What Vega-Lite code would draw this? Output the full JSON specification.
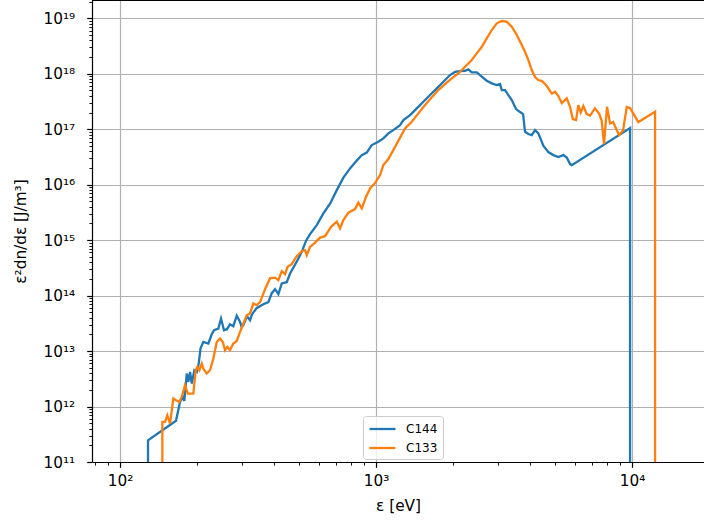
{
  "$schema": "https://vega.github.io/schema/vega-lite/v6.json",
  "width": 612,
  "height": 462,
  "autosize": {"type": "none"},
  "padding": {"left": 92, "top": 0, "right": 0, "bottom": 65},
  "background": "white",
  "config": {
    "view": {"stroke": null},
    "font": "DejaVu Sans",
    "axis": {
      "domainColor": "black", "domainWidth": 1.2, "tickColor": "black",
      "gridColor": "#b0b0b0", "gridWidth": 1.2,
      "labelFont": "DejaVu Sans", "labelFontSize": 15.3, "labelColor": "black",
      "titleFont": "DejaVu Sans", "titleFontSize": 15.3, "titleFontWeight": "normal", "titleColor": "black",
      "labelOverlap": false, "labelFlush": false, "labelBound": false
    }
  },
  "data": {"values": [
    {"s":"C144","i":0,"e":128.6,"v":1e5},
    {"s":"C144","i":1,"e":128.6,"v":2.46e11},
    {"s":"C144","i":2,"e":165.4,"v":5.54e11},
    {"s":"C144","i":3,"e":171.5,"v":1.21e12},
    {"s":"C144","i":4,"e":175.8,"v":1.49e12},
    {"s":"C144","i":5,"e":178.3,"v":1.26e12},
    {"s":"C144","i":6,"e":182.2,"v":3.93e12},
    {"s":"C144","i":7,"e":184.9,"v":2.78e12},
    {"s":"C144","i":8,"e":187.7,"v":4.20e12},
    {"s":"C144","i":9,"e":190.6,"v":2.60e12},
    {"s":"C144","i":10,"e":195.1,"v":4.51e12},
    {"s":"C144","i":11,"e":199.3,"v":4.20e12},
    {"s":"C144","i":12,"e":202.9,"v":5.96e12},
    {"s":"C144","i":13,"e":206.3,"v":1.125e13},
    {"s":"C144","i":14,"e":211.5,"v":1.46e13},
    {"s":"C144","i":15,"e":221.3,"v":1.37e13},
    {"s":"C144","i":16,"e":228.1,"v":2.01e13},
    {"s":"C144","i":17,"e":232.9,"v":2.38e13},
    {"s":"C144","i":18,"e":242.1,"v":2.55e13},
    {"s":"C144","i":19,"e":248.0,"v":3.87e13},
    {"s":"C144","i":20,"e":254.7,"v":2.38e13},
    {"s":"C144","i":21,"e":261.8,"v":2.48e13},
    {"s":"C144","i":22,"e":268.9,"v":3.05e13},
    {"s":"C144","i":23,"e":277.0,"v":2.81e13},
    {"s":"C144","i":24,"e":285.7,"v":4.34e13},
    {"s":"C144","i":25,"e":294.3,"v":3.36e13},
    {"s":"C144","i":26,"e":298.8,"v":2.69e13},
    {"s":"C144","i":27,"e":303.1,"v":2.93e13},
    {"s":"C144","i":28,"e":313.4,"v":4.25e13},
    {"s":"C144","i":29,"e":321.9,"v":3.60e13},
    {"s":"C144","i":30,"e":327.8,"v":4.62e13},
    {"s":"C144","i":31,"e":341.3,"v":5.93e13},
    {"s":"C144","i":32,"e":362.8,"v":7.00e13},
    {"s":"C144","i":33,"e":379.6,"v":7.61e13},
    {"s":"C144","i":34,"e":391.4,"v":1.105e14},
    {"s":"C144","i":35,"e":403.2,"v":1.305e14},
    {"s":"C144","i":36,"e":415.4,"v":1.060e14},
    {"s":"C144","i":37,"e":428.2,"v":1.654e14},
    {"s":"C144","i":38,"e":447.9,"v":1.746e14},
    {"s":"C144","i":39,"e":461.4,"v":2.506e14},
    {"s":"C144","i":40,"e":489.9,"v":4.091e14},
    {"s":"C144","i":41,"e":512.6,"v":6.145e14},
    {"s":"C144","i":42,"e":532.9,"v":9.79e14},
    {"s":"C144","i":43,"e":552.4,"v":1.282e15},
    {"s":"C144","i":44,"e":586.6,"v":1.864e15},
    {"s":"C144","i":45,"e":622.6,"v":3.029e15},
    {"s":"C144","i":46,"e":661.2,"v":4.550e15},
    {"s":"C144","i":47,"e":702.3,"v":7.97e15},
    {"s":"C144","i":48,"e":745.3,"v":1.340e16},
    {"s":"C144","i":49,"e":791.4,"v":1.964e16},
    {"s":"C144","i":50,"e":840.5,"v":2.716e16},
    {"s":"C144","i":51,"e":879.4,"v":3.413e16},
    {"s":"C144","i":52,"e":919.8,"v":3.785e16},
    {"s":"C144","i":53,"e":962.0,"v":5.17e16},
    {"s":"C144","i":54,"e":1021,"v":5.93e16},
    {"s":"C144","i":55,"e":1068,"v":6.83e16},
    {"s":"C144","i":56,"e":1117,"v":8.41e16},
    {"s":"C144","i":57,"e":1168,"v":9.64e16},
    {"s":"C144","i":58,"e":1241,"v":1.187e17},
    {"s":"C144","i":59,"e":1279,"v":1.461e17},
    {"s":"C144","i":60,"e":1358,"v":1.797e17},
    {"s":"C144","i":61,"e":1442,"v":2.375e17},
    {"s":"C144","i":62,"e":1530,"v":3.124e17},
    {"s":"C144","i":63,"e":1625,"v":4.126e17},
    {"s":"C144","i":64,"e":1727,"v":5.45e17},
    {"s":"C144","i":65,"e":1832,"v":7.17e17},
    {"s":"C144","i":66,"e":1946,"v":9.47e17},
    {"s":"C144","i":67,"e":2036,"v":1.086e18},
    {"s":"C144","i":68,"e":2129,"v":1.118e18},
    {"s":"C144","i":69,"e":2227,"v":1.132e18},
    {"s":"C144","i":70,"e":2294,"v":1.200e18},
    {"s":"C144","i":71,"e":2365,"v":1.060e18},
    {"s":"C144","i":72,"e":2474,"v":1.060e18},
    {"s":"C144","i":73,"e":2588,"v":8.83e17},
    {"s":"C144","i":74,"e":2707,"v":7.47e17},
    {"s":"C144","i":75,"e":2831,"v":6.71e17},
    {"s":"C144","i":76,"e":2961,"v":6.25e17},
    {"s":"C144","i":77,"e":3050,"v":6.52e17},
    {"s":"C144","i":78,"e":3097,"v":5.08e17},
    {"s":"C144","i":79,"e":3190,"v":5.08e17},
    {"s":"C144","i":80,"e":3287,"v":4.126e17},
    {"s":"C144","i":81,"e":3389,"v":3.352e17},
    {"s":"C144","i":82,"e":3524,"v":2.307e17},
    {"s":"C144","i":83,"e":3652,"v":2.037e17},
    {"s":"C144","i":84,"e":3752,"v":1.874e17},
    {"s":"C144","i":85,"e":3819,"v":8.98e16},
    {"s":"C144","i":86,"e":3935,"v":8.17e16},
    {"s":"C144","i":87,"e":4057,"v":7.83e16},
    {"s":"C144","i":88,"e":4180,"v":9.64e16},
    {"s":"C144","i":89,"e":4305,"v":8.41e16},
    {"s":"C144","i":90,"e":4503,"v":5.06e16},
    {"s":"C144","i":91,"e":4710,"v":3.866e16},
    {"s":"C144","i":92,"e":4927,"v":3.413e16},
    {"s":"C144","i":93,"e":5153,"v":3.141e16},
    {"s":"C144","i":94,"e":5390,"v":3.413e16},
    {"s":"C144","i":95,"e":5558,"v":3.077e16},
    {"s":"C144","i":96,"e":5726,"v":2.349e16},
    {"s":"C144","i":97,"e":5815,"v":2.253e16},
    {"s":"C144","i":98,"e":9822,"v":1.048e17},
    {"s":"C144","i":99,"e":9822,"v":1e5},
    {"s":"C133","i":0,"e":146.3,"v":1e5},
    {"s":"C133","i":1,"e":146.3,"v":5.27e11},
    {"s":"C133","i":2,"e":149.9,"v":5.27e11},
    {"s":"C133","i":3,"e":153.0,"v":6.96e11},
    {"s":"C133","i":4,"e":156.8,"v":4.93e11},
    {"s":"C133","i":5,"e":161.5,"v":1.393e12},
    {"s":"C133","i":6,"e":165.4,"v":1.297e12},
    {"s":"C133","i":7,"e":170.4,"v":1.21e12},
    {"s":"C133","i":8,"e":174.2,"v":1.49e12},
    {"s":"C133","i":9,"e":179.4,"v":2.419e12},
    {"s":"C133","i":10,"e":183.9,"v":1.714e12},
    {"s":"C133","i":11,"e":193.3,"v":1.714e12},
    {"s":"C133","i":12,"e":197.5,"v":4.51e12},
    {"s":"C133","i":13,"e":200.4,"v":5.17e12},
    {"s":"C133","i":14,"e":204.1,"v":4.51e12},
    {"s":"C133","i":15,"e":208.5,"v":5.96e12},
    {"s":"C133","i":16,"e":211.5,"v":4.84e12},
    {"s":"C133","i":17,"e":218.1,"v":3.93e12},
    {"s":"C133","i":18,"e":224.7,"v":4.51e12},
    {"s":"C133","i":19,"e":231.4,"v":7.33e12},
    {"s":"C133","i":20,"e":238.6,"v":1.46e13},
    {"s":"C133","i":21,"e":245.8,"v":1.684e13},
    {"s":"C133","i":22,"e":251.9,"v":1.46e13},
    {"s":"C133","i":23,"e":257.2,"v":1.036e13},
    {"s":"C133","i":24,"e":262.5,"v":1.188e13},
    {"s":"C133","i":25,"e":268.9,"v":1.036e13},
    {"s":"C133","i":26,"e":277.0,"v":1.368e13},
    {"s":"C133","i":27,"e":285.7,"v":1.524e13},
    {"s":"C133","i":28,"e":294.3,"v":2.215e13},
    {"s":"C133","i":29,"e":303.1,"v":3.140e13},
    {"s":"C133","i":30,"e":312.6,"v":4.43e13},
    {"s":"C133","i":31,"e":321.9,"v":4.76e13},
    {"s":"C133","i":32,"e":331.7,"v":7.21e13},
    {"s":"C133","i":33,"e":342.0,"v":6.71e13},
    {"s":"C133","i":34,"e":352.3,"v":7.61e13},
    {"s":"C133","i":35,"e":368.5,"v":1.305e14},
    {"s":"C133","i":36,"e":385.4,"v":2.061e14},
    {"s":"C133","i":37,"e":403.2,"v":2.104e14},
    {"s":"C133","i":38,"e":415.4,"v":1.897e14},
    {"s":"C133","i":39,"e":428.2,"v":2.756e14},
    {"s":"C133","i":40,"e":441.1,"v":2.434e14},
    {"s":"C133","i":41,"e":451.1,"v":3.296e14},
    {"s":"C133","i":42,"e":468.5,"v":3.687e14},
    {"s":"C133","i":43,"e":489.9,"v":5.14e14},
    {"s":"C133","i":44,"e":512.6,"v":6.33e14},
    {"s":"C133","i":45,"e":528.1,"v":6.60e14},
    {"s":"C133","i":46,"e":536.2,"v":5.36e14},
    {"s":"C133","i":47,"e":552.4,"v":7.56e14},
    {"s":"C133","i":48,"e":577.6,"v":9.01e14},
    {"s":"C133","i":49,"e":604.2,"v":1.109e15},
    {"s":"C133","i":50,"e":632.0,"v":1.180e15},
    {"s":"C133","i":51,"e":667.3,"v":1.737e15},
    {"s":"C133","i":52,"e":702.3,"v":2.155e15},
    {"s":"C133","i":53,"e":723.5,"v":1.624e15},
    {"s":"C133","i":54,"e":745.3,"v":2.293e15},
    {"s":"C133","i":55,"e":779.6,"v":3.131e15},
    {"s":"C133","i":56,"e":827.9,"v":3.622e15},
    {"s":"C133","i":57,"e":852.9,"v":4.75e15},
    {"s":"C133","i":58,"e":879.4,"v":3.728e15},
    {"s":"C133","i":59,"e":914.1,"v":6.04e15},
    {"s":"C133","i":60,"e":947.5,"v":8.56e15},
    {"s":"C133","i":61,"e":991.1,"v":1.066e16},
    {"s":"C133","i":62,"e":1037,"v":1.487e16},
    {"s":"C133","i":63,"e":1068,"v":2.253e16},
    {"s":"C133","i":64,"e":1117,"v":2.890e16},
    {"s":"C133","i":65,"e":1168,"v":4.20e16},
    {"s":"C133","i":66,"e":1241,"v":7.06e16},
    {"s":"C133","i":67,"e":1298,"v":1.035e17},
    {"s":"C133","i":68,"e":1379,"v":1.361e17},
    {"s":"C133","i":69,"e":1463,"v":1.930e17},
    {"s":"C133","i":70,"e":1554,"v":2.724e17},
    {"s":"C133","i":71,"e":1651,"v":3.751e17},
    {"s":"C133","i":72,"e":1751,"v":5.08e17},
    {"s":"C133","i":73,"e":1860,"v":6.52e17},
    {"s":"C133","i":74,"e":1975,"v":8.26e17},
    {"s":"C133","i":75,"e":2097,"v":1.016e18},
    {"s":"C133","i":76,"e":2227,"v":1.337e18},
    {"s":"C133","i":77,"e":2365,"v":1.766e18},
    {"s":"C133","i":78,"e":2474,"v":2.333e18},
    {"s":"C133","i":79,"e":2588,"v":3.068e18},
    {"s":"C133","i":80,"e":2707,"v":4.35e18},
    {"s":"C133","i":81,"e":2831,"v":6.14e18},
    {"s":"C133","i":82,"e":2961,"v":8.11e18},
    {"s":"C133","i":83,"e":3097,"v":8.92e18},
    {"s":"C133","i":84,"e":3239,"v":8.67e18},
    {"s":"C133","i":85,"e":3389,"v":7.04e18},
    {"s":"C133","i":86,"e":3546,"v":4.99e18},
    {"s":"C133","i":87,"e":3708,"v":3.293e18},
    {"s":"C133","i":88,"e":3819,"v":2.493e18},
    {"s":"C133","i":89,"e":3935,"v":1.766e18},
    {"s":"C133","i":90,"e":4057,"v":1.166e18},
    {"s":"C133","i":91,"e":4180,"v":8.72e17},
    {"s":"C133","i":92,"e":4305,"v":7.69e17},
    {"s":"C133","i":93,"e":4449,"v":7.38e17},
    {"s":"C133","i":94,"e":4644,"v":6.00e17},
    {"s":"C133","i":95,"e":4857,"v":4.39e17},
    {"s":"C133","i":96,"e":5003,"v":4.73e17},
    {"s":"C133","i":97,"e":5153,"v":3.959e17},
    {"s":"C133","i":98,"e":5314,"v":2.959e17},
    {"s":"C133","i":99,"e":5558,"v":3.597e17},
    {"s":"C133","i":100,"e":5726,"v":2.538e17},
    {"s":"C133","i":101,"e":5867,"v":1.523e17},
    {"s":"C133","i":102,"e":6043,"v":1.461e17},
    {"s":"C133","i":103,"e":6168,"v":2.724e17},
    {"s":"C133","i":104,"e":6303,"v":1.994e17},
    {"s":"C133","i":105,"e":6452,"v":2.614e17},
    {"s":"C133","i":106,"e":6653,"v":1.874e17},
    {"s":"C133","i":107,"e":6853,"v":1.761e17},
    {"s":"C133","i":108,"e":7169,"v":2.375e17},
    {"s":"C133","i":109,"e":7452,"v":1.874e17},
    {"s":"C133","i":110,"e":7613,"v":1.401e17},
    {"s":"C133","i":111,"e":7772,"v":5.39e16},
    {"s":"C133","i":112,"e":7985,"v":2.538e17},
    {"s":"C133","i":113,"e":8204,"v":1.274e17},
    {"s":"C133","i":114,"e":8429,"v":1.344e17},
    {"s":"C133","i":115,"e":8713,"v":9.64e16},
    {"s":"C133","i":116,"e":8896,"v":7.83e16},
    {"s":"C133","i":117,"e":9222,"v":9.44e16},
    {"s":"C133","i":118,"e":9535,"v":2.506e17},
    {"s":"C133","i":119,"e":9822,"v":2.405e17},
    {"s":"C133","i":120,"e":10580,"v":1.344e17},
    {"s":"C133","i":121,"e":12300,"v":2.062e17},
    {"s":"C133","i":122,"e":12300,"v":1e5}
  ]},
  "layer": [
    {
      "mark": {"type": "line", "strokeWidth": 2.3, "clip": true},
      "encoding": {
        "x": {
          "field": "e", "type": "quantitative",
          "scale": {"type": "log", "domain": [77.7, 19100], "nice": false},
          "axis": {
            "title": "ε [eV]",
            "titlePadding": 10,
            "values": [80,90,100,200,300,400,500,600,700,800,900,1000,2000,3000,4000,5000,6000,7000,8000,9000,10000],
            "labelExpr": "datum.value == 100 ? '10²' : datum.value == 1000 ? '10³' : datum.value == 10000 ? '10⁴' : ''",
            "labelPadding": 6,
            "tickSize": {"condition": {"test": "datum.value == 100 || datum.value == 1000 || datum.value == 10000", "value": 5.3}, "value": 3.1},
            "tickWidth": {"condition": {"test": "datum.value == 100 || datum.value == 1000 || datum.value == 10000", "value": 1.2}, "value": 0.9},
            "gridOpacity": {"condition": {"test": "datum.value == 100 || datum.value == 1000 || datum.value == 10000", "value": 1}, "value": 0}
          }
        },
        "y": {
          "field": "v", "type": "quantitative",
          "scale": {"type": "log", "domain": [1e11, 2.135e19], "nice": false},
          "axis": {
            "title": "ε²dn/dε [J/m³]",
            "titlePadding": 14,
            "values": [1e11,2e11,3e11,4e11,5e11,6e11,7e11,8e11,9e11,1e12,2e12,3e12,4e12,5e12,6e12,7e12,8e12,9e12,1e13,2e13,3e13,4e13,5e13,6e13,7e13,8e13,9e13,1e14,2e14,3e14,4e14,5e14,6e14,7e14,8e14,9e14,1e15,2e15,3e15,4e15,5e15,6e15,7e15,8e15,9e15,1e16,2e16,3e16,4e16,5e16,6e16,7e16,8e16,9e16,1e17,2e17,3e17,4e17,5e17,6e17,7e17,8e17,9e17,1e18,2e18,3e18,4e18,5e18,6e18,7e18,8e18,9e18,1e19,2e19],
            "labelExpr": "abs(log(datum.value)/LN10 - round(log(datum.value)/LN10)) < 1e-6 ? '10' + ['¹¹','¹²','¹³','¹⁴','¹⁵','¹⁶','¹⁷','¹⁸','¹⁹'][round(log(datum.value)/LN10) - 11] : ''",
            "labelPadding": 12,
            "tickSize": {"condition": {"test": "abs(log(datum.value)/LN10 - round(log(datum.value)/LN10)) < 1e-6", "value": 5.3}, "value": 3.1},
            "tickWidth": {"condition": {"test": "abs(log(datum.value)/LN10 - round(log(datum.value)/LN10)) < 1e-6", "value": 1.2}, "value": 0.9},
            "gridOpacity": {"condition": {"test": "abs(log(datum.value)/LN10 - round(log(datum.value)/LN10)) < 1e-6", "value": 1}, "value": 0}
          }
        },
        "color": {
          "field": "s", "type": "nominal",
          "scale": {"domain": ["C144", "C133"], "range": ["#1f77b4", "#ff7f0e"]},
          "legend": {
            "title": null, "orient": "none", "legendX": 271, "legendY": 416,
            "symbolType": "M-1,0H3", "symbolSize": 169, "symbolStrokeWidth": 2.3,
            "labelFont": "DejaVu Sans", "labelFontSize": 12, "labelColor": "black", "labelOffset": 22,
            "padding": 5, "rowPadding": 5,
            "strokeColor": "#cccccc", "fillColor": "rgba(255,255,255,0.8)", "cornerRadius": 3
          }
        },
        "order": {"field": "i", "type": "quantitative"}
      }
    },
    {
      "mark": {"type": "rule", "color": "black", "strokeWidth": 1.2},
      "encoding": {"y": {"datum": 2.135e19}}
    }
  ]
}
